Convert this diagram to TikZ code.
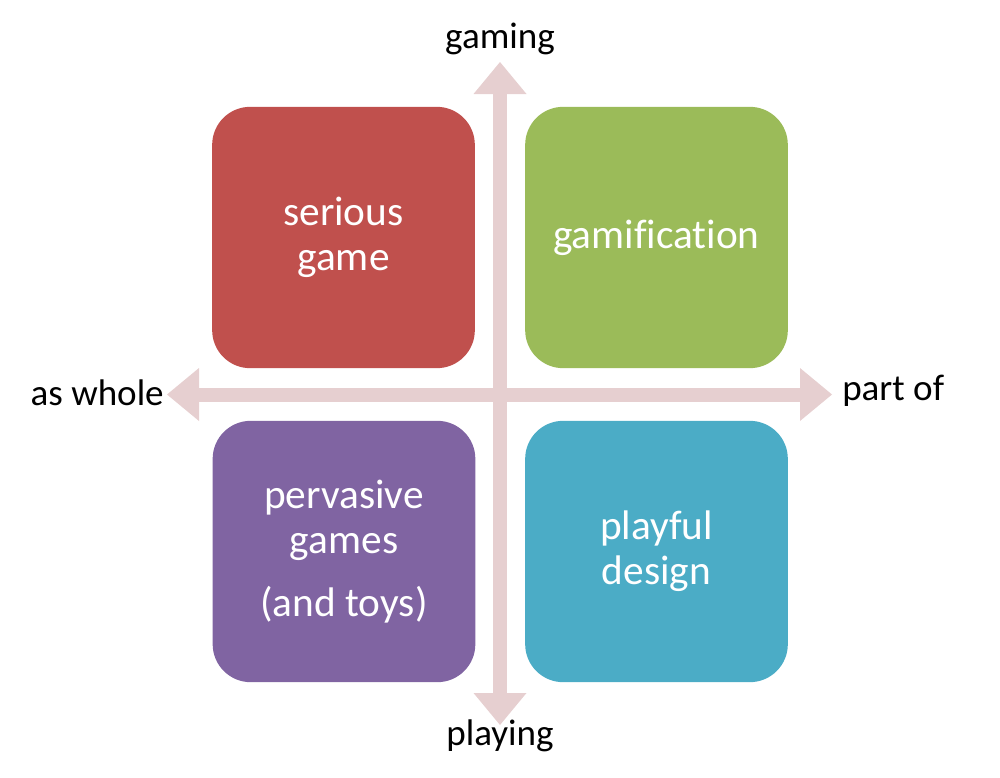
\documentclass[tikz,border=0pt]{standalone}
\usepackage{fontspec}
\setmainfont{Carlito}[Ligatures=NoCommon]
\usetikzlibrary{arrows.meta}

\definecolor{Serious}{HTML}{C0504D}
\definecolor{Gamif}{HTML}{9BBB59}
\definecolor{Pervasive}{HTML}{8064A2}
\definecolor{Playful}{HTML}{4BACC6}
\definecolor{Axis}{HTML}{E6CFD0}

\begin{document}
\begin{tikzpicture}[x=0.75pt, y=-0.75pt,
  quadrant/.style={rectangle, rounded corners=28.5pt, minimum width=197pt, minimum height=196pt,
    text=white, align=center, font=\fontsize{31}{33.75}\selectfont, inner sep=0pt},
  axislabel/.style={font=\fontsize{27.8}{32}\selectfont, inner sep=0pt},
  axis/.style={draw=Axis, line width=10.5pt,
    {Triangle[width=39.75pt, length=24pt, line width=0pt]}-{Triangle[width=39.75pt, length=24pt, line width=0pt]}}]

 \useasboundingbox (0,0) rectangle (1000,778);

  %%%%%%%%%% Axis ends %%%%%%%%%%

 \coordinate (top) at (500,62);
 \coordinate (bottom) at (500,725);
 \coordinate (left) at (167,394.5);
 \coordinate (right) at (832,394.5);

 %%%%%%%%%% Axes %%%%%%%%%%
 \draw [axis] (bottom) -- (top) ;
 \draw [axis] (left) -- (right) ;

 %%%%%%%%%%% Quadrants %%%%%%%%%%%
 \node (serious) [quadrant, fill=Serious] at (343.5,237.5) {serious\\game};
 \node (gamif) [quadrant, fill=Gamif] at (656.5,237.5) {gamification};
 \node (pervasive) [quadrant, fill=Pervasive] at (344,551.5) {pervasive\\games\\[14pt](and toys)};
 \node (playful) [quadrant, fill=Playful] at (656.5,551.5) {playful\\design};

 %%%%%%%%%%% Axis labels %%%%%%%%%%%
 \node (gaming) [axislabel, anchor=base] at (500,48) {gaming};
 \node (playing) [axislabel, anchor=base] at (500,745) {playing};
 \node (whole) [axislabel, anchor=base east] at (164,405) {as whole};
 \node (partof) [axislabel, anchor=base west] at (842,400) {part of};

\end{tikzpicture}
\end{document}
